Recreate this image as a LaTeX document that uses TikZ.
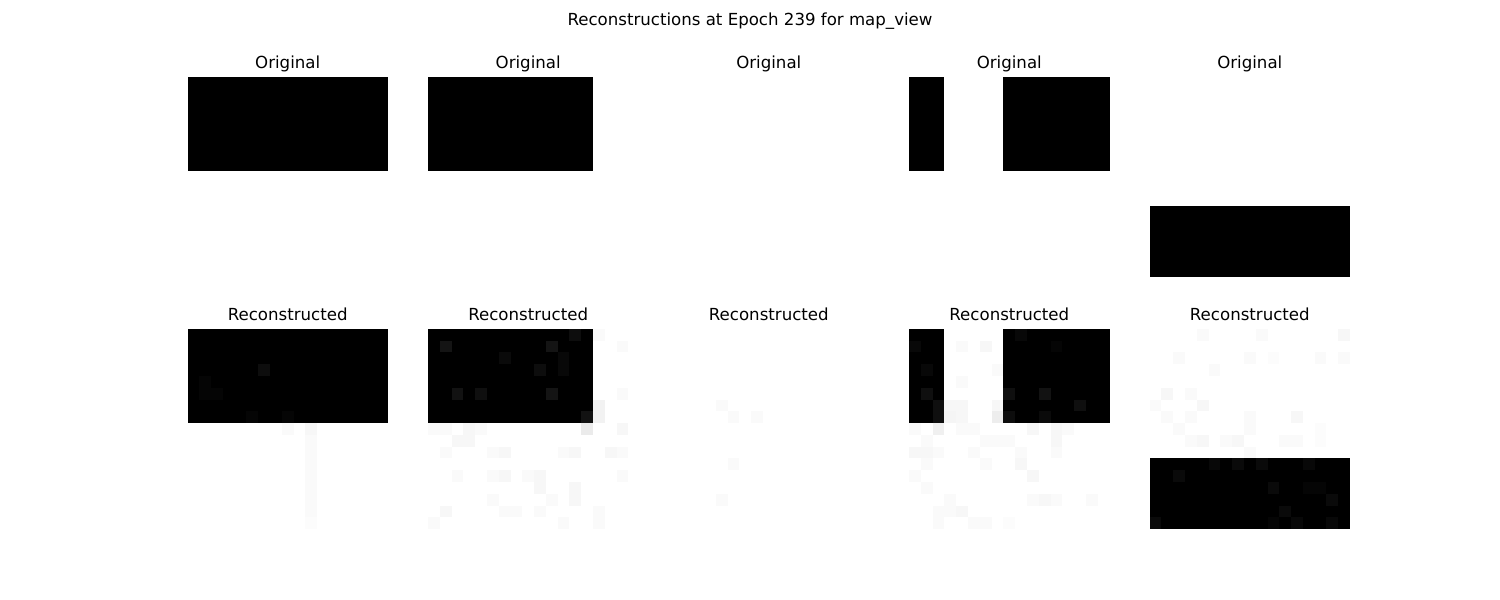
\documentclass[tikz,border=0pt]{standalone}
\usepackage{fontspec}
\setmainfont{DejaVu Sans}
\begin{document}
\begin{tikzpicture}[x=0.01in,y=-0.01in,
  lbl/.style={anchor=base,inner sep=0pt,font=\fontsize{12}{14}\selectfont}]
\useasboundingbox[fill=white] (0,0) rectangle (1500,600);
\def\cz{11.79}
\newcommand\pxgrid[3]{%
  \foreach \c/\r/\p in {#3}{\fill[black!\p] ({#1+\c*\cz},{#2+\r*\cz}) rectangle ++(\cz,\cz);}}
% title
\node[lbl] (title) at (750,25.5) {Reconstructions at Epoch 239 for map\_view};
% column titles
\foreach \x [count=\i] in {287.7,528.2,768.8,1009.3,1249.8}{
  \node[lbl] (orig\i) at (\x,68.5) {Original};
  \node[lbl] (rec\i) at (\x,320.5) {Reconstructed};
}
% ---------- originals ----------
\fill[black] (187.5,76.8) rectangle ++(200.43,94.32);
\fill[black] (428.0,76.8) rectangle ++(165.06,94.32);
\fill[black] (909.1,76.8) rectangle ++(35.37,94.32);
\fill[black] (1003.42,76.8) rectangle ++(106.11,94.32);
\fill[black] (1149.6,206.49) rectangle ++(200.43,70.74);
% ---------- reconstructions ----------
% 1
\fill[black] (187.5,328.8) rectangle ++(200.43,94.32);
\pxgrid{187.5}{328.8}{6/3/95,1/4/98,1/5/98,2/5/98,5/7/98,8/7/98,
  10/8/3,8/8/2,10/9/2,10/10/2,10/11/2,10/12/2,10/13/2,10/14/2,10/15/2,10/16/1}
% 2
\fill[black] (428.0,328.8) rectangle ++(165.06,94.32);
\pxgrid{428.0}{328.8}{1/1/92,10/1/92,6/2/96,9/3/95,2/5/93,4/5/94,10/5/92,12/0/95,11/2/97,11/3/97,13/7/93,
  13/8/8,14/6/5,14/7/5,16/1/2,16/5/2,14/0/2,
  0/8/2,1/8/2,3/8/3,2/9/3,3/9/3,4/8/2,1/10/2,5/10/2,6/10/3,2/12/2,5/12/2,6/12/3,8/12/2,9/12/3,9/13/3,
  12/13/3,12/14/3,10/14/2,1/15/3,6/15/2,7/15/2,9/15/2,14/15/2,0/16/2,11/16/2,11/10/2,12/10/3,15/10/3,16/10/2,
  16/8/3,16/12/2,5/14/2,14/16/2}
% 3
\pxgrid{668.6}{328.8}{4/6/2,5/7/2,7/7/2,5/11/2,4/14/2}
% 4
\fill[black] (909.1,328.8) rectangle ++(35.37,94.32);
\fill[black] (1003.42,328.8) rectangle ++(106.11,94.32);
\pxgrid{909.1}{328.8}{0/1/97,1/3/97,1/5/94,2/6/94,2/7/94,8/5/94,11/5/93,14/6/94,8/7/95,11/7/96,9/0/97,12/1/98,
  4/1/2,6/1/3,7/3/2,4/4/2,3/6/3,4/6/3,7/6/3,7/7/7,3/7/4,4/7/3,
  0/8/2,2/8/6,4/8/2,5/8/2,10/8/3,12/8/3,13/8/2,1/9/2,6/9/2,7/9/2,8/9/2,12/9/3,0/10/3,1/10/3,2/10/2,5/10/2,
  9/10/2,12/10/2,1/11/2,6/11/2,9/11/3,0/12/2,10/12/3,1/13/2,3/14/2,10/14/2,11/14/3,12/14/2,15/14/2,
  2/15/2,3/15/2,4/15/3,2/16/2,5/16/2,6/16/2,8/16/1}
% 5
\fill[black] (1149.6,458.49) rectangle ++(200.43,70.74);
\pxgrid{1149.6}{328.8}{4/0/2,9/0/2,16/0/3,2/2/2,8/2/2,10/2/1,14/2/2,16/2/2,5/3/2,1/5/3,3/5/2,0/6/2,4/6/3,
  1/7/2,3/7/2,8/7/2,8/8/2,12/7/3,2/8/2,3/9/2,4/9/3,6/9/2,7/9/3,11/9/2,12/9/2,14/8/1,14/9/1,8/10/2,
  2/12/96,5/11/97,7/11/96,9/11/96,13/11/97,10/13/96,15/14/96,11/15/96,0/16/96,10/16/98,12/16/97,15/16/97,13/13/98,14/13/98}
\end{tikzpicture}
\end{document}
